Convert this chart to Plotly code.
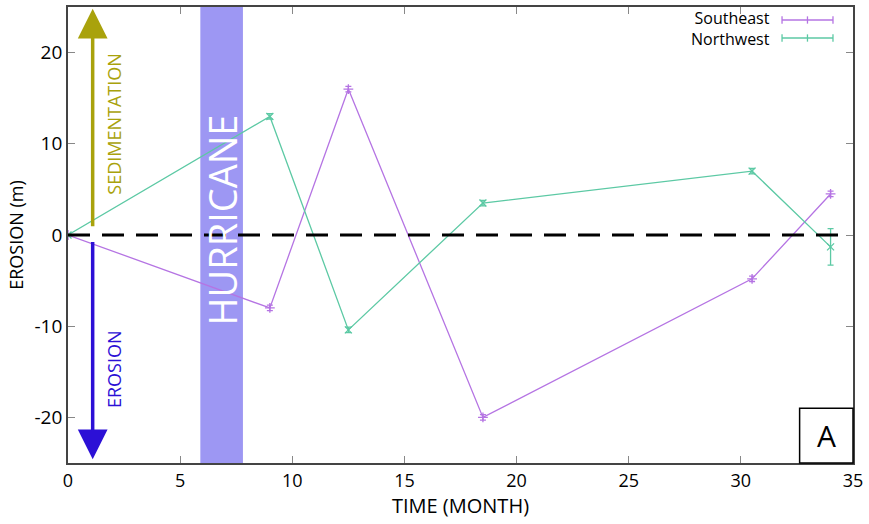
import plotly.graph_objects as go

# ---- data ----
months_se = [0, 9, 12.5, 18.5, 30.5, 34]
erosion_se = [0, -8.0, 16.0, -20.0, -4.8, 4.5]
err_se = [0, 0.3, 0.3, 0.3, 0.3, 0.3]

months_nw = [0, 9, 12.5, 18.5, 30.5, 34]
erosion_nw = [0, 13.0, -10.4, 3.5, 7.0, -1.3]
err_nw = [0, 0.3, 0.3, 0.3, 0.3, 2.0]

hurricane_span = [5.9, 7.8]
x_ticks = [0, 5, 10, 15, 20, 25, 30, 35]
y_ticks = [-20, -10, 0, 10, 20]
y_tick_labels = ["-20", "-10", "0", "10", "20"]
series_names = ["Southeast", "Northwest"]

PURPLE = "#b574e3"
TEAL = "#5cc9a4"
FONT = "Open Sans"

fig = go.Figure()

fig.add_trace(go.Scatter(
    x=months_se, y=erosion_se, mode="lines+markers", name=series_names[0],
    line=dict(color=PURPLE, width=1.3),
    marker=dict(symbol="cross-thin", size=7, line=dict(color=PURPLE, width=1.3)),
    error_y=dict(type="data", array=err_se, color=PURPLE, thickness=1.3, width=3),
    showlegend=False))
fig.add_trace(go.Scatter(
    x=months_nw, y=erosion_nw, mode="lines+markers", name=series_names[1],
    line=dict(color=TEAL, width=1.3),
    marker=dict(symbol="x-thin", size=7, line=dict(color=TEAL, width=1.3)),
    error_y=dict(type="data", array=err_nw, color=TEAL, thickness=1.3, width=3),
    showlegend=False))

shapes = [
    # hurricane band
    dict(type="rect", xref="x", yref="paper", x0=hurricane_span[0], x1=hurricane_span[1],
         y0=0, y1=1, fillcolor="#9d97f3", line=dict(width=0), layer="below"),
    # zero line
    dict(type="line", xref="x", yref="y", x0=0, x1=34.5, y0=0, y1=0,
         line=dict(color="black", width=3.2, dash="22px,12px")),
    # A box
    dict(type="rect", xref="paper", yref="paper", x0=0.932, x1=1.0, y0=0, y1=0.12,
         fillcolor="white", line=dict(color="black", width=1.5)),
]

# legend keys
for yk, col in [(0.9715, PURPLE), (0.932, TEAL)]:
    shapes.append(dict(type="line", xref="paper", yref="paper", x0=0.9096, x1=0.9745,
                       y0=yk, y1=yk, line=dict(color=col, width=1.3)))
    for xk in (0.9096, 0.9745, 0.942):
        shapes.append(dict(type="line", xref="paper", yref="paper", x0=xk, x1=xk,
                           y0=yk - 0.008, y1=yk + 0.008, line=dict(color=col, width=1.3)))

annotations = [
    dict(text="HURRICANE", x=6.87, y=1.6, xref="x", yref="y", showarrow=False,
         textangle=-90, font=dict(family=FONT, size=38, color="white")),
    dict(text="SEDIMENTATION", x=2.05, y=12.2, xref="x", yref="y", showarrow=False,
         textangle=-90, font=dict(family=FONT, size=18, color="#a9a20c")),
    dict(text="EROSION", x=2.05, y=-14.7, xref="x", yref="y", showarrow=False,
         textangle=-90, font=dict(family=FONT, size=18, color="#2c10d6")),
    # arrows
    dict(x=1.1, y=24.8, ax=1.1, ay=0.8, xref="x", yref="y", axref="x", ayref="y",
         text="", showarrow=True, arrowhead=2, arrowsize=1.7, arrowwidth=3.5,
         arrowcolor="#a9a20c"),
    dict(x=1.1, y=-24.6, ax=1.1, ay=-0.6, xref="x", yref="y", axref="x", ayref="y",
         text="", showarrow=True, arrowhead=2, arrowsize=1.7, arrowwidth=3.5,
         arrowcolor="#2c10d6"),
    dict(text="A", x=0.966, y=0.06, xref="paper", yref="paper", showarrow=False,
         xanchor="center", yanchor="middle",
         font=dict(family=FONT, size=30, color="black")),
    dict(text="<br>".join(series_names), x=0.8966, y=0.952, xref="paper", yref="paper",
         showarrow=False, xanchor="right", yanchor="middle", align="right",
         font=dict(family=FONT, size=16, color="black")),
]

fig.update_layout(
    width=869, height=524,
    margin=dict(l=68, r=16, t=7, b=61, autoexpand=False),
    paper_bgcolor="white", plot_bgcolor="white",
    shapes=shapes, annotations=annotations,
    font=dict(family=FONT, size=17, color="black"),
)
fig.update_xaxes(
    range=[0, 35], tickvals=x_ticks, ticks="inside", ticklen=7, tickcolor="#888",
    showline=True, linecolor="#444", linewidth=1.8, mirror="allticks",
    showgrid=False, zeroline=False, automargin=False,
    title=dict(text="TIME (MONTH)", font=dict(family=FONT, size=20), standoff=6),
    tickfont=dict(family=FONT, size=18))
fig.update_yaxes(
    range=[-25, 25], tickvals=y_ticks, ticktext=y_tick_labels, ticks="inside", ticklen=7,
    tickcolor="#888",
    showline=True, linecolor="#444", linewidth=1.8, mirror="allticks",
    showgrid=False, zeroline=False, automargin=False,
    title=dict(text="EROSION (m)", font=dict(family=FONT, size=18), standoff=6),
    tickfont=dict(family=FONT, size=19))

fig.write_html("out.html", config={"displayModeBar": False},
               post_script="document.body.style.margin='0';")
